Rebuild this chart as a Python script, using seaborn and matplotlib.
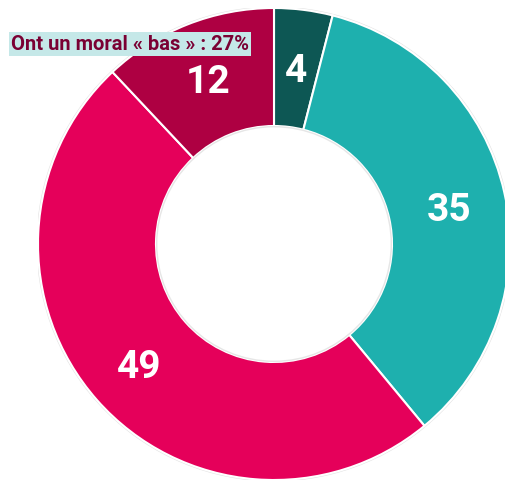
import matplotlib.pyplot as plt
import seaborn as sns
from matplotlib.patches import Circle

values = [4, 35, 49, 12]
labels = ["4", "35", "49", "12"]
colors = ["#0d5754", "#1eb0ae", "#e5005a", "#ae0042"]
note = "Ont un moral « bas » : 27%"

sns.set_theme(style="white")
plt.rcParams["font.family"] = ["Roboto", "DejaVu Sans"]

fig = plt.figure(figsize=(5.06, 4.83), dpi=100)
ax = fig.add_axes([38 / 506, 3 / 483, 472 / 506, 472 / 483])

wedges, texts, autotexts = ax.pie(
    values,
    labels=None,
    colors=colors,
    startangle=90,
    counterclock=False,
    radius=1,
    autopct=lambda p: f"{p:.0f}",
    pctdistance=0.76,
    wedgeprops=dict(width=0.5, edgecolor="white", linewidth=1.5),
)
for t in autotexts:
    x, y = t.get_position()
    t.set_position((x, y - 0.022))
    t.set_color("white")
    t.set_fontsize(28)
    t.set_fontweight("bold")

ax.add_patch(Circle((0, 0), 1.003, fill=False, edgecolor="#e2e2e2", linewidth=1.2, zorder=0))
ax.add_patch(Circle((0, 0), 0.497, fill=False, edgecolor="#e6e6e6", linewidth=1.0, zorder=3))
ax.set_xlim(-1, 1)
ax.set_ylim(-1, 1)
ax.set_aspect("equal")
ax.axis("off")

fig.text(
    11 / 506, 1 - 44 / 483, note,
    ha="left", va="center", fontsize=14.5, fontweight="bold", color="#7a0033",
    bbox=dict(boxstyle="square,pad=0.12", facecolor="#c5e8e8", edgecolor="none"),
)

fig.savefig("out.png", dpi=100)
